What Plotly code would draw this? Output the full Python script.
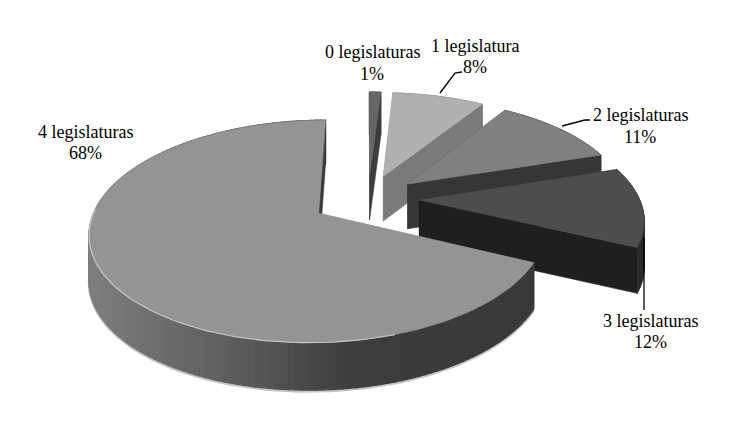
import math
import plotly.graph_objects as go

categories = ["0 legislaturas", "1 legislatura", "2 legislaturas", "3 legislaturas", "4 legislaturas"]
shares = [1, 8, 11, 12, 68]

top_colors = ["#666666", "#b0b0b0", "#808080", "#4d4d4d", "#949494"]
radial_colors = ["#3c3c3c", "#7a7a7a", "#363636", "#1f1f1f", "#3a3a3a"]
back_edge_colors = ["#3c3c3c", "#7a7a7a", "#363636", "#1f1f1f", "#8a8a8a"]
rim_colors = ["#555555", "#808080", "#444444", "#2a2a2a", None]
explode = [0.233, 0.233, 0.233, 0.233, 0.26]

CX, CY, RX, RY, PERSP, DEPTH = 368, 198.5, 220, 103.5, 0.16, 45


def project(u, v):
    s = 1 / (1 - PERSP * v)
    return CX + RX * u * s, CY + RY * v * s, DEPTH * s ** 0.25


def big_wall_color(x):
    stops = [(87, 128), (150, 112), (250, 90), (340, 64), (400, 60), (540, 58)]
    for (a, ca), (b, cb) in zip(stops, stops[1:]):
        if x <= b:
            t = max(0, (x - a) / (b - a))
            g = int(ca + (cb - ca) * t)
            return f"rgb({g},{g},{g})"
    return "rgb(58,58,58)"


fig = go.Figure()


def poly(xs, ys, color, w=0.6):
    fig.add_trace(go.Scatter(x=list(xs) + [xs[0]], y=list(ys) + [ys[0]], mode="lines",
                             fill="toself", fillcolor=color,
                             line=dict(color=color, width=w),
                             hoverinfo="skip", showlegend=False))


start = 0.0
for i, (name, share) in enumerate(zip(categories, shares)):
    a0 = math.radians(start)
    a1 = math.radians(start + share * 3.6)
    mid = (a0 + a1) / 2
    ou, ov = explode[i] * math.sin(mid), -explode[i] * math.cos(mid)
    n = max(4, int(share * 2.5))
    rim = [(ou + math.sin(a0 + (a1 - a0) * k / n), ov - math.cos(a0 + (a1 - a0) * k / n)) for k in range(n + 1)]
    outline = [(ou, ov)] + rim
    pts = [project(u, v) for u, v in outline]

    if i == 4:  # soft shadow under the large slice
        sh = [(p[0], p[1] + p[2] + 1.5) for p in pts[1:] if p[1] > CY]
        fig.add_trace(go.Scatter(x=[p[0] for p in sh], y=[p[1] for p in sh], mode="lines",
                                 line=dict(color="#c4c4c4", width=2.5),
                                 hoverinfo="skip", showlegend=False))

    quads = []
    m = len(pts)
    for j in range(m):
        p, q = pts[j], pts[(j + 1) % m]
        vmid = (outline[j][1] + outline[(j + 1) % m][1]) / 2
        if j == 0:
            col, w = back_edge_colors[i], 0.3
        elif j == m - 1:
            col, w = radial_colors[i], 0.6
        elif i == 4:
            col, w = big_wall_color((p[0] + q[0]) / 2), 1.4
        else:
            col, w = rim_colors[i], 1.0
        quads.append((vmid, p, q, col, w))
    quads.sort(key=lambda t: t[0])
    for _, p, q, col, w in quads:
        poly([p[0], q[0], q[0], p[0]], [p[1], q[1], q[1] + q[2], p[1] + p[2]], col, w)

    poly([p[0] for p in pts], [p[1] for p in pts], top_colors[i])

    if i == 4:  # bevel highlight on the rim
        hl = [p for p in pts[1:] if p[1] > CY + 10 and p[0] < 400]
        fig.add_trace(go.Scatter(x=[p[0] for p in hl], y=[p[1] for p in hl], mode="lines",
                                 line=dict(color="#c6c6c6", width=1.2),
                                 hoverinfo="skip", showlegend=False))
    start += share * 3.6

name_pos = [(372, 52), (475, 46), (640, 115), (650, 321), (85, 132)]
pct_pos = [(372, 74), (475, 67), (640, 137), (650, 342), (85, 153)]
font = dict(family="Liberation Serif", size=18, color="black")
annotations = []
for (nx, ny), (px, py), c, s in zip(name_pos, pct_pos, categories, shares):
    annotations.append(dict(x=nx, y=ny, xref="x", yref="y", showarrow=False, text=c, font=font))
    annotations.append(dict(x=px, y=py, xref="x", yref="y", showarrow=False, text=f"{s}%", font=font))

leaders = ["M440,93 L455,73 L462,72", "M562,126 L585,120 L590,120", "M644,238 L644,310"]
shapes = [dict(type="path", path=p, xref="x", yref="y", line=dict(color="black", width=1.3)) for p in leaders]

# The page body keeps an 8 px margin, so the figure starts 8 px in on each side.
fig.update_layout(
    width=730, height=424, margin=dict(l=0, r=0, t=0, b=0),
    paper_bgcolor="white", plot_bgcolor="white", showlegend=False,
    xaxis=dict(range=[8, 738], visible=False, fixedrange=True),
    yaxis=dict(range=[432, 8], visible=False, fixedrange=True),
    annotations=annotations, shapes=shapes,
)
fig.write_html("out.html")
